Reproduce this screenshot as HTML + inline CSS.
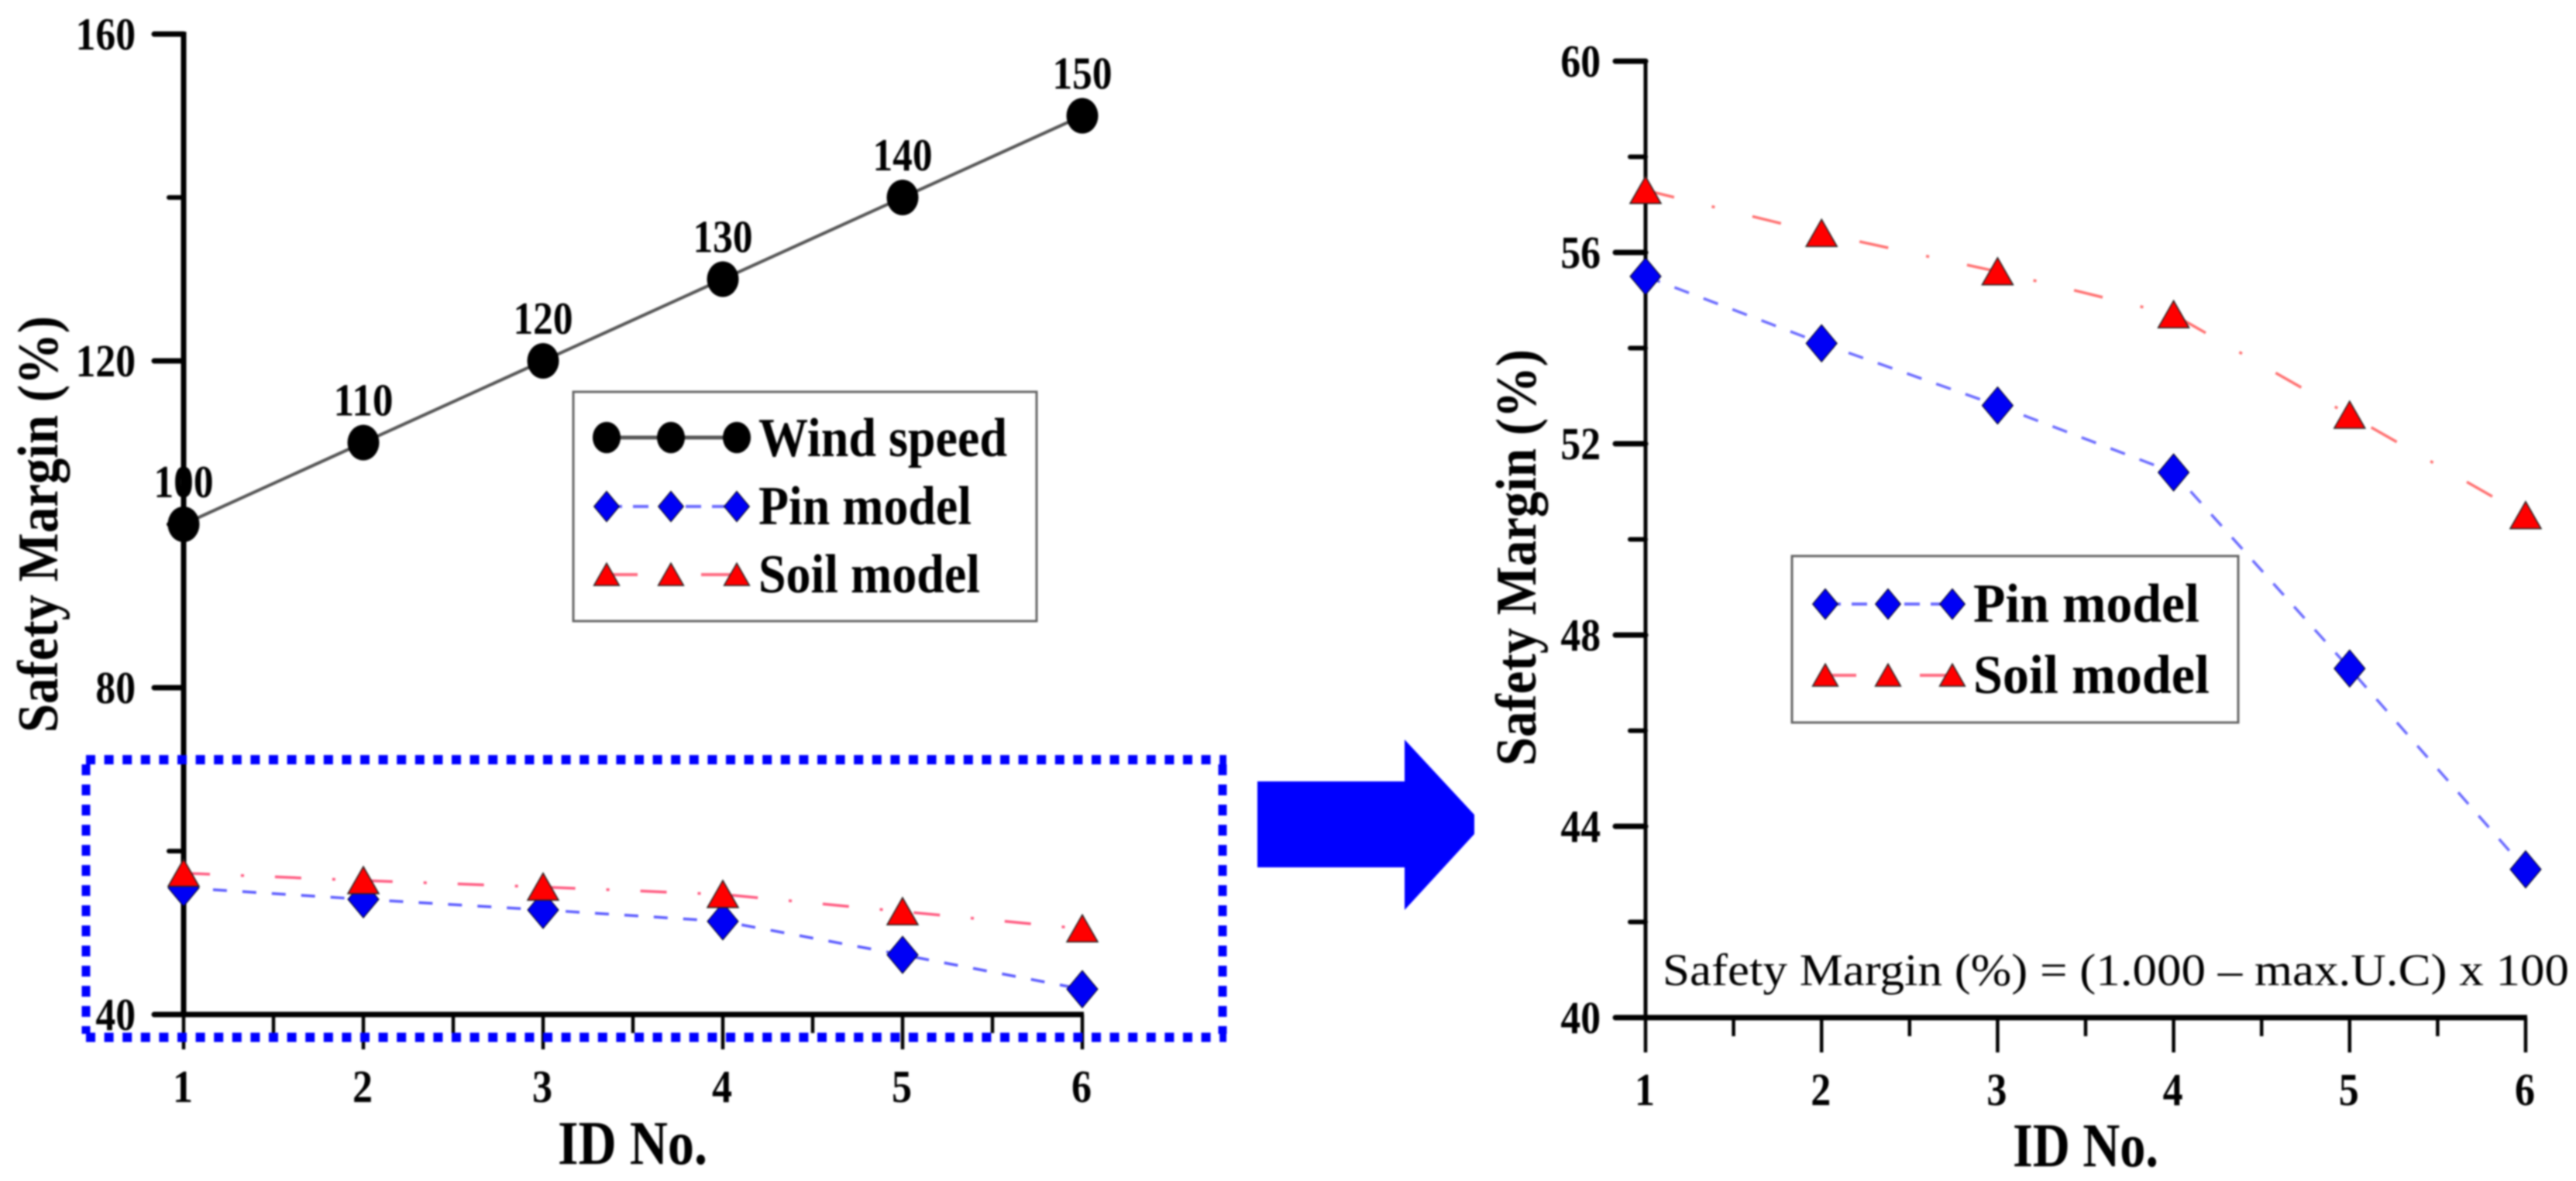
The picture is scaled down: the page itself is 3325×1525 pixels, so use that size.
<!DOCTYPE html>
<html lang="en">
<head>
<meta charset="utf-8">
<title>Safety margin by ID number</title>
<style>
  html, body { margin: 0; padding: 0; background: #ffffff; }
  svg { display: block; filter: blur(1px); }
  text { font-family: "Liberation Serif", serif; fill: #000; }
</style>
</head>
<body>
<svg id="figure" xmlns="http://www.w3.org/2000/svg" width="3325" height="1525" viewBox="0 0 3325 1525">
  <rect x="0" y="0" width="3325" height="1525" fill="#ffffff"/>

  <g id="left-chart"></g>
  <g id="right-chart"></g>

  <g stroke="#0000ff" fill="none">
    <line x1="111" y1="981" x2="1583" y2="981" stroke-width="12" stroke-dasharray="12 11.6"/>
    <line x1="111" y1="1339.5" x2="1583" y2="1339.5" stroke-width="12" stroke-dasharray="12 11.6"/>
    <line x1="111" y1="987" x2="111" y2="1335" stroke-width="11" stroke-dasharray="14 12"/>
    <line x1="1578" y1="987" x2="1578" y2="1335" stroke-width="11" stroke-dasharray="14 12"/>
  </g>

  <polygon fill="#0000ff" points="1623,1009 1813,1009 1813,955 1903,1052 1903,1077 1813,1175 1813,1120 1623,1120"/>

  <text x="2146" y="1272" font-size="58" textLength="1170" lengthAdjust="spacingAndGlyphs">Safety Margin (%) = (1.000 – max.U.C) x 100</text>
</svg>

<script>
// ---- chart data ----
const idCategories = [1, 2, 3, 4, 5, 6];
const windSpeed = [100, 110, 120, 130, 140, 150];
const pinModel = [55.5, 54.1, 52.8, 51.4, 47.3, 43.1];
const soilModel = [57.3, 56.4, 55.6, 54.7, 52.6, 50.5];
const leftYTicks = [40, 80, 120, 160];
const leftYMinorTicks = [60, 100, 140];
const rightYTicks = [40, 44, 48, 52, 56, 60];
const rightYMinorTicks = [42, 46, 50, 54, 58];
const xMinorTicks = [1.5, 2.5, 3.5, 4.5, 5.5];
const windLabels = ['100', '110', '120', '130', '140', '150'];
const legendLeftLabels = ['Wind speed', 'Pin model', 'Soil model'];
const legendRightLabels = ['Pin model', 'Soil model'];

const SVG_NS = 'http://www.w3.org/2000/svg';

function make(tag, parent, attrs) {
  const el = document.createElementNS(SVG_NS, tag);
  for (const k in attrs) el.setAttribute(k, attrs[k]);
  parent.appendChild(el);
  return el;
}

function makeAxes(x1px, x6px, yLowPx, yHighPx, yLow, yHigh) {
  return {
    x: function (v) { return x1px + (v - 1) * (x6px - x1px) / 5; },
    y: function (v) { return yLowPx - (v - yLow) * (yLowPx - yHighPx) / (yHigh - yLow); }
  };
}

function trianglePoints(cx, cy, s) {
  return [[cx, cy - 18 * s], [cx + 20 * s, cy + 17 * s], [cx - 20 * s, cy + 17 * s]].map(function (p) { return p.join(','); }).join(' ');
}

function diamondPoints(cx, cy, s) {
  return [[cx, cy - 24 * s], [cx + 20 * s, cy], [cx, cy + 24 * s], [cx - 20 * s, cy]].map(function (p) { return p.join(','); }).join(' ');
}

function drawCircle(parent, cx, cy, s) {
  const el = make('ellipse', parent, { cx: cx, cy: cy, rx: 20.5 * s, ry: 23 * s, fill: '#000' });
  
  
}

function drawDiamond(parent, cx, cy, s) {
  const el = make('polygon', parent, { points: diamondPoints(cx, cy, s), fill: '#0000f5', stroke: '#000', 'stroke-width': 1 });
  
  
}

function drawTriangle(parent, cx, cy, s) {
  const el = make('polygon', parent, { points: trianglePoints(cx, cy, s), fill: '#ff0000', stroke: '#222', 'stroke-width': 1.5 });
  
  
}

function drawSeriesLine(parent, axes, values, color, width, dash, name) {
  const pts = values.map(function (v, i) { return axes.x(idCategories[i]) + ',' + axes.y(v); }).join(' ');
  const el = make('polyline', parent, { points: pts, fill: 'none', stroke: color, 'stroke-width': width, 'stroke-dasharray': dash });
  
  
}

function drawAxes(parent, axes, opt) {
  const xAxisY = axes.y(opt.yTicks[0]);
  const yTop = axes.y(opt.yTicks[opt.yTicks.length - 1]);
  const xLeft = axes.x(idCategories[0]);
  const xRight = axes.x(idCategories[idCategories.length - 1]);

  const yLine = make('line', parent, { x1: xLeft, y1: yTop - 3, x2: xLeft, y2: xAxisY, stroke: '#000', 'stroke-width': opt.yAxisWidth });
  
  

  const xLine = make('line', parent, { x1: xLeft, y1: xAxisY, x2: xRight + 2, y2: xAxisY, stroke: '#000', 'stroke-width': 7 });
  
  

  opt.yTicks.forEach(function (v) {
    const y = axes.y(v);
    const tick = make('line', parent, { x1: xLeft - opt.yMajorLen, y1: y, x2: xLeft, y2: y, stroke: '#000', 'stroke-width': 7, 'stroke-linecap': 'round' });
    
    
    const label = make('text', parent, { x: xLeft - opt.yLabelGap, y: y + 20, 'text-anchor': 'end', 'font-size': 59, 'font-weight': 'bold', textLength: String(v).length * 25.8, lengthAdjust: 'spacingAndGlyphs' });
    label.textContent = String(v);
    
    
  });

  opt.yMinor.forEach(function (v) {
    const y = axes.y(v);
    const tick = make('line', parent, { x1: xLeft - opt.yMinorLen, y1: y, x2: xLeft, y2: y, stroke: '#000', 'stroke-width': 6, 'stroke-linecap': 'round' });
    
    
  });

  idCategories.forEach(function (c) {
    const x = axes.x(c);
    const tick = make('line', parent, { x1: x, y1: xAxisY, x2: x, y2: xAxisY + 45, stroke: '#000', 'stroke-width': 4.5 });
    
    
    const label = make('text', parent, { x: x - 1, y: xAxisY + 113, 'text-anchor': 'middle', 'font-size': 59, 'font-weight': 'bold', textLength: 26, lengthAdjust: 'spacingAndGlyphs' });
    label.textContent = String(c);
    
    
  });

  xMinorTicks.forEach(function (c) {
    const x = axes.x(c);
    const tick = make('line', parent, { x1: x, y1: xAxisY, x2: x, y2: xAxisY + 24, stroke: '#000', 'stroke-width': 4.5 });
    
    
  });
}

function drawTitles(parent, yTitleX, yTitleBottom, xTitleX, xTitleY, xTitleLen) {
  const yTitle = make('text', parent, { transform: 'translate(' + yTitleX + ',' + yTitleBottom + ') rotate(-90)', 'font-size': 74, 'font-weight': 'bold', textLength: 538, lengthAdjust: 'spacingAndGlyphs' });
  yTitle.textContent = 'Safety Margin (%)';
  
  

  const xTitle = make('text', parent, { x: xTitleX, y: xTitleY, 'font-size': 80, 'font-weight': 'bold', textLength: xTitleLen, lengthAdjust: 'spacingAndGlyphs' });
  xTitle.textContent = 'ID No.';
  
  
}

function drawLegendBox(parent, x, y, w, h) {
  const box = make('rect', parent, { x: x, y: y, width: w, height: h, fill: '#ffffff', stroke: '#666', 'stroke-width': 3 });
  
  
}

function drawLegendEntry(parent, kind, xs, y, textX, baseline, label, labelLen) {
  const lineStyles = {
    wind: ['#555555', 5, 'none'],
    pin: ['#6a6aff', 4, '20 14'],
    soil: ['#ff6a80', 4, '40 82 40']
  };
  const style = lineStyles[kind];
  const sample = make('line', parent, { x1: xs[0], y1: y, x2: xs[2], y2: y, stroke: style[0], 'stroke-width': style[1], 'stroke-dasharray': style[2] });
  
  
  xs.forEach(function (x) {
    if (kind === 'wind') drawCircle(parent, x, y, 0.88);
    if (kind === 'pin') drawDiamond(parent, x, y, 0.82);
    if (kind === 'soil') drawTriangle(parent, x, y, 0.82);
  });
  const text = make('text', parent, { x: textX, y: baseline, 'font-size': 71, 'font-weight': 'bold', textLength: labelLen, lengthAdjust: 'spacingAndGlyphs' });
  text.textContent = label;
  
  
}

// ---- left chart ----
const leftGroup = document.getElementById('left-chart');
const leftAxes = makeAxes(237, 1397, 1310, 44, 40, 160);
drawAxes(leftGroup, leftAxes, { yTicks: leftYTicks, yMinor: leftYMinorTicks, yAxisWidth: 7, yMajorLen: 38, yMinorLen: 19, yLabelGap: 62 });
drawTitles(leftGroup, 74, 946, 720, 1503, 193);

drawSeriesLine(leftGroup, leftAxes, windSpeed, '#555555', 4, 'none', 'wind-speed-line');
drawSeriesLine(leftGroup, leftAxes, pinModel, '#5a5aff', 3.5, '18 20', 'pin-model-line');
drawSeriesLine(leftGroup, leftAxes, soilModel, '#ff5a80', 3.5, '34 40 4 40', 'soil-model-line');

windSpeed.forEach(function (v, i) {
  const x = leftAxes.x(idCategories[i]);
  const y = leftAxes.y(v);
  drawCircle(leftGroup, x, y, 1);
  const label = make('text', leftGroup, { x: x, y: y - 35, 'text-anchor': 'middle', 'font-size': 59, 'font-weight': 'bold', textLength: 77, lengthAdjust: 'spacingAndGlyphs' });
  label.textContent = windLabels[i];
  
  
});
pinModel.forEach(function (v, i) { drawDiamond(leftGroup, leftAxes.x(idCategories[i]), leftAxes.y(v), 1); });
soilModel.forEach(function (v, i) { drawTriangle(leftGroup, leftAxes.x(idCategories[i]), leftAxes.y(v), 1); });

drawLegendBox(leftGroup, 740, 506, 598, 296);
drawLegendEntry(leftGroup, 'wind', [783, 866, 951], 565, 979, 589, legendLeftLabels[0], 321);
drawLegendEntry(leftGroup, 'pin', [783, 866, 951], 654, 979, 677, legendLeftLabels[1], 275);
drawLegendEntry(leftGroup, 'soil', [783, 866, 951], 742, 979, 765, legendLeftLabels[2], 286);

// ---- right chart ----
const rightGroup = document.getElementById('right-chart');
const rightAxes = makeAxes(2124, 3260, 1314, 79, 40, 60);
drawAxes(rightGroup, rightAxes, { yTicks: rightYTicks, yMinor: rightYMinorTicks, yAxisWidth: 5, yMajorLen: 39, yMinorLen: 20, yLabelGap: 58 });
drawTitles(rightGroup, 1982, 989, 2598, 1506, 188);

drawSeriesLine(rightGroup, rightAxes, pinModel, '#6a6aff', 3.5, '20 20', 'pin-model-line');
drawSeriesLine(rightGroup, rightAxes, soilModel, '#ff7070', 3.5, '38 50 4 50', 'soil-model-line');
pinModel.forEach(function (v, i) { drawDiamond(rightGroup, rightAxes.x(idCategories[i]), rightAxes.y(v), 1); });
soilModel.forEach(function (v, i) { drawTriangle(rightGroup, rightAxes.x(idCategories[i]), rightAxes.y(v), 1); });

drawLegendBox(rightGroup, 2313, 718, 576, 215);
drawLegendEntry(rightGroup, 'pin', [2356, 2437, 2520], 780, 2547, 803, legendRightLabels[0], 292);
drawLegendEntry(rightGroup, 'soil', [2356, 2437, 2520], 872, 2547, 895, legendRightLabels[1], 305);
</script>
</body>
</html>
